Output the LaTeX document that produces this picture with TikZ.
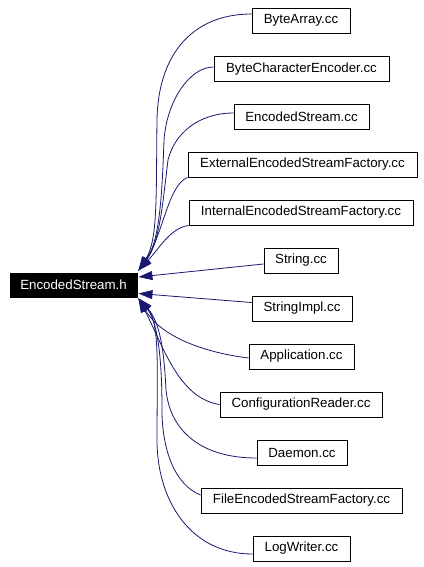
\documentclass[tikz,border=0pt]{standalone}
\usepackage{fontspec}
\setmainfont{Liberation Sans}
\usetikzlibrary{arrows.meta,calc}
\definecolor{edgec}{HTML}{191970}
\begin{document}
\begin{tikzpicture}[x=1pt,y=-1pt,
  box/.style={draw=black, line width=0.9pt, fill=white, inner sep=0pt,
    minimum height=25pt, font=\fontsize{13.3}{16}\selectfont},
  hbox/.style={box, fill=black, text=white},
  edge/.style={draw=edgec, line width=0.8pt, -{Triangle[length=14pt,width=9pt]}}]
\useasboundingbox[fill=white] (0,0) rectangle (423,567);

\node[hbox, minimum width=127pt, minimum height=24pt] (H) at (73.5,285) {EncodedStream.h};

\node[box, minimum width=98pt]  (BA)  at (301,20.5)  {ByteArray.cc};
\node[box, minimum width=175pt] (BCE) at (301.5,69)  {ByteCharacterEncoder.cc};
\node[box, minimum width=135pt] (ESC) at (301.5,116.5) {EncodedStream.cc};
\node[box, minimum width=229pt] (EXT) at (302.5,164.5) {ExternalEncodedStreamFactory.cc};
\node[box, minimum width=224pt] (INT) at (301,212.5) {InternalEncodedStreamFactory.cc};
\node[box, minimum width=74pt]  (STR) at (301,260.5) {String.cc};
\node[box, minimum width=100pt] (SIM) at (302,308.5) {StringImpl.cc};
\node[box, minimum width=105pt] (APP) at (301.5,356.5) {Application.cc};
\node[box, minimum width=162pt] (CFG) at (301,404.5) {ConfigurationReader.cc};
\node[box, minimum width=90pt]  (DMN) at (302,452.5) {Daemon.cc};
\node[box, minimum width=201pt] (FES) at (301.5,500.5) {FileEncodedStreamFactory.cc};
\node[box, minimum width=97pt]  (LOG) at (301.5,548.5) {LogWriter.cc};

\coordinate (tipU) at ($(H.north east)+(1,-2)$);
\coordinate (tipL) at ($(H.south east)+(1,1)$);

% upper group
\draw[edge] ($(BA.west)+(0,-6.5)$) .. controls (192,14) and (158,55) .. (157,120)
  .. controls (156,195) and (158,240) .. (tipU);
\draw[edge] ($(BCE.west)+(0,-2)$) .. controls (190,67) and (167,100) .. (164,140)
  .. controls (162,200) and (159,242) .. (tipU);
\draw[edge] ($(ESC.west)+(0,-3.5)$) .. controls (200,113) and (175,132) .. (168,160)
  .. controls (163,200) and (160,242) .. (tipU);
\draw[edge] (EXT.south west) .. controls (168,185) and (163,235) .. (tipU);
\draw[edge] (INT.south west) .. controls (170,228) and (158,250) .. (tipU);

% straight
\draw[edge] ($(STR.west)+(0,3.5)$) -- ($(H.east)+(1,-8)$);
\draw[edge] ($(SIM.west)+(0,-6)$) -- ($(H.east)+(1,8.5)$);

% lower group
\draw[edge] ($(APP.west)+(0,1.5)$) .. controls (200,352) and (160,335) .. (tipL);
\draw[edge] (CFG.west) .. controls (178,398) and (163,345) .. (tipL);
\draw[edge] ($(DMN.west)+(0,5.5)$) .. controls (200,458) and (170,430) .. (166,390)
  .. controls (164,350) and (160,322) .. (tipL);
\draw[edge] ($(FES.west)+(0,-5.5)$) .. controls (175,485) and (162,450) .. (162,410)
  .. controls (162,360) and (158,322) .. (tipL);
\draw[edge] ($(LOG.west)+(0,5.5)$) .. controls (190,554) and (157,500) .. (157,440)
  .. controls (157,370) and (160,322) .. (tipL);
\end{tikzpicture}
\end{document}
